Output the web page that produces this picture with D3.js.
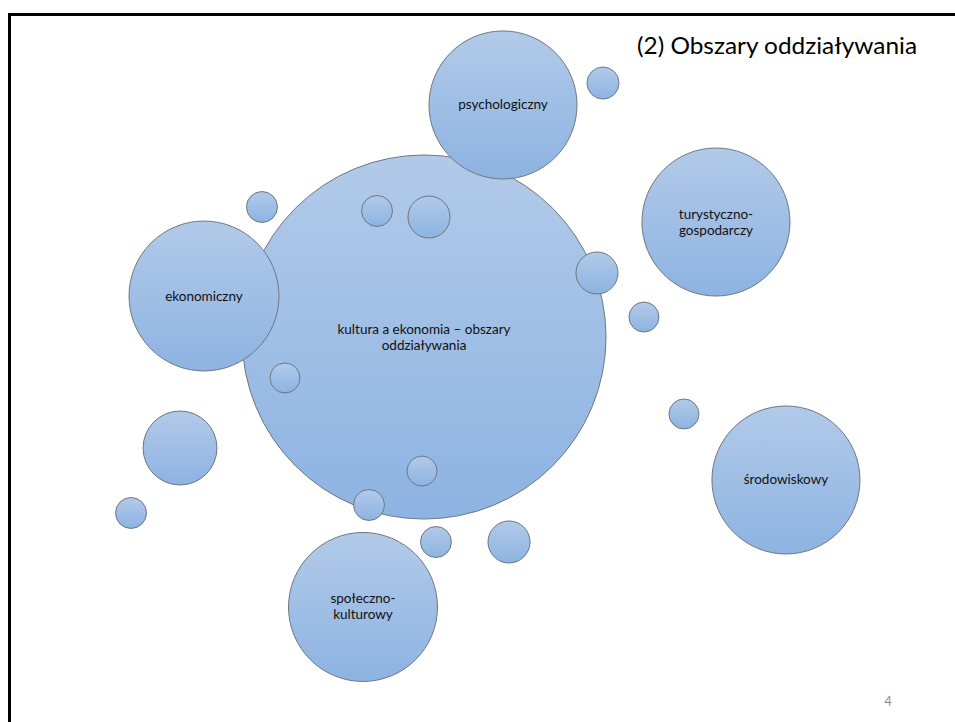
<!DOCTYPE html>
<html>
<head>
<meta charset="utf-8">
<script src="https://cdn.jsdelivr.net/npm/d3@7"></script>
<style>
  html, body { margin: 0; padding: 0; background: #fff; }
  svg { display: block; }
</style>
</head>
<body>
<svg id="chart" width="955" height="722"></svg>
<script>
// Bubble data in slide-percent units (x: % of width, y: % of height, r: % of width)
const bubbleLabels = [
  "kultura a ekonomia – obszary\noddziaływania",
  "psychologiczny", "", "", "", "", "", "", "", "",
  "ekonomiczny", "turystyczno-\ngospodarczy", "", "", "środowiskowy",
  "", "", "społeczno-\nkulturowy", "", ""
];
const bubbleX = [44.40, 52.67, 63.14, 39.48, 44.92, 62.51, 29.84, 44.19, 38.64, 27.43,
                 21.36, 74.97, 67.43, 71.62, 82.30, 18.85, 13.72, 38.01, 45.65, 53.30];
const bubbleY = [46.68, 14.54, 11.50, 29.22, 30.06, 37.81, 52.35, 65.24, 69.94, 28.67,
                 41.00, 30.75, 43.91, 57.34, 66.48, 62.05, 71.05, 84.07, 75.07, 75.07];
const bubbleR = [19.06, 7.75, 1.68, 1.62, 2.20, 2.20, 1.57, 1.57, 1.62, 1.62,
                 7.85, 7.75, 1.57, 1.57, 7.75, 3.87, 1.62, 7.80, 1.62, 2.20];
const titleText = "(2) Obszary oddziaływania";
const pageNumber = "4";

const W = 955, H = 722;
const svg = d3.select("#chart");
const x = d3.scaleLinear().domain([0, 100]).range([0, W]);
const y = d3.scaleLinear().domain([0, 100]).range([0, H]);
const rs = d3.scaleLinear().domain([0, 100]).range([0, W]);

const defs = svg.append("defs");
const grad = defs.append("linearGradient").attr("id", "bub")
  .attr("x1", 0).attr("y1", 0).attr("x2", 0).attr("y2", 1);
grad.append("stop").attr("offset", "0%").attr("stop-color", "#b2cae9");
grad.append("stop").attr("offset", "100%").attr("stop-color", "#8db3e2");

// slide frame (top and left edges)
svg.append("path")
  .attr("d", `M${9.5},${H} L${9.5},${14.5} L${W},${14.5}`)
  .attr("fill", "none").attr("stroke", "#000").attr("stroke-width", 3);

const data = bubbleLabels.map((l, i) => ({label: l, x: bubbleX[i], y: bubbleY[i], r: bubbleR[i]}));

const g = svg.append("g");
const nodes = g.selectAll("g.b").data(data).join("g").attr("class", "b");
nodes.append("circle")
  .attr("cx", d => x(d.x)).attr("cy", d => y(d.y)).attr("r", d => rs(d.r))
  .attr("fill", "url(#bub)").attr("stroke", "#6f7680").attr("stroke-width", 1);

nodes.each(function(d) {
  if (!d.label) return;
  const lines = d.label.split("\n");
  const lh = 16;
  const t = d3.select(this).append("text")
    .attr("text-anchor", "middle")
    .attr("font-family", "Lato, 'Open Sans', sans-serif")
    .attr("font-size", 13.5)
    .attr("fill", "#111");
  lines.forEach((ln, k) => {
    t.append("tspan")
      .attr("x", x(d.x))
      .attr("y", y(d.y) + (k - (lines.length - 1) / 2) * lh + 4.5)
      .text(ln);
  });
});

svg.append("text")
  .attr("x", 637).attr("y", 54)
  .attr("font-family", "Lato, 'Open Sans', sans-serif")
  .attr("font-size", 24)
  .attr("textLength", 280)
  .attr("lengthAdjust", "spacingAndGlyphs")
  .attr("fill", "#000")
  .text(titleText);

svg.append("text")
  .attr("x", 888).attr("y", 706)
  .attr("text-anchor", "middle")
  .attr("font-family", "Lato, 'Open Sans', sans-serif")
  .attr("font-size", 12.5)
  .attr("fill", "#8a8a8a")
  .text(pageNumber);
</script>
</body>
</html>
